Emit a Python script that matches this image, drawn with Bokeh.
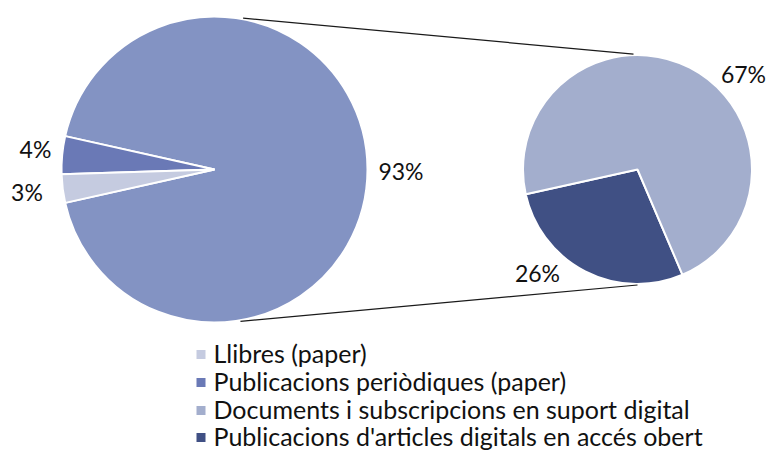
import math
from bokeh.plotting import figure
from bokeh.models import Range1d
from bokeh.core.properties import value
from bokeh.embed import file_html
from bokeh.resources import INLINE

# ---- data ----
categories = [
    "Llibres (paper)",
    "Publicacions periòdiques (paper)",
    "Documents i subscripcions en suport digital",
    "Publicacions d'articles digitals en accés obert",
]
values = [3, 4, 67, 26]          # percentages of total
main_idx = [0, 1]                # shown in the main pie
sec_idx = [2, 3]                 # grouped into the secondary pie

# ---- styles ----
colors = ["#C5CBE0", "#6A79B6", "#A3AECD", "#405084"]
other_color = "#8393C3"
FONT = value("Lato")

W, H = 769, 452
p = figure(width=W, height=H, x_range=Range1d(0, W), y_range=Range1d(0, H),
           output_backend="svg", toolbar_location=None, min_border=0)
p.axis.visible = False
p.grid.visible = False
p.outline_line_color = None
p.background_fill_color = "white"

def sy(y):  # picture y (from top) -> data y
    return H - y

# main pie
cx1, cy1, r1 = 214, sy(169), 153
other = sum(values[i] for i in sec_idx)
half = other * 3.6 / 2
starts, ends, cols = [-half], [half], [other_color]
a = half
for i in [1, 0]:
    starts.append(a)
    a += values[i] * 3.6
    ends.append(a)
    cols.append(colors[i])
p.wedge(x=cx1, y=cy1, radius=r1, start_angle=starts, end_angle=ends,
        start_angle_units="deg", end_angle_units="deg",
        fill_color=cols, line_color="white", line_width=2)

# secondary pie
cx2, cy2, r2 = 637, sy(169), 114.5
b0 = 192.5
s2, e2, c2 = [], [], []
b = b0
for i in [3, 2]:
    s2.append(b)
    b += values[i] / other * 360
    e2.append(b)
    c2.append(colors[i])
p.wedge(x=cx2, y=cy2, radius=r2, start_angle=s2, end_angle=e2,
        start_angle_units="deg", end_angle_units="deg",
        fill_color=c2, line_color="white", line_width=2)

# connector lines
def pt(cx, cy, r, ang):
    return cx + r * math.cos(math.radians(ang)), cy + r * math.sin(math.radians(ang))
for a1, a2 in [(79.3, 92.0), (-80.3, 270.0)]:
    x1, y1 = pt(cx1, cy1, r1 + 1, a1)
    x2, y2 = pt(cx2, cy2, r2 + 1, a2)
    p.line([x1, x2], [y1, y2], line_color="#1a1a1a", line_width=1.2)

# data labels
lab_x = [26.5, 35, 743, 537]
lab_y = [sy(191.5), sy(148.5), sy(73), sy(272.5)]
lab_t = [f"{v}%" for v in values]
lab_x.append(400.5); lab_y.append(sy(170)); lab_t.append(f"{other}%")
p.text(x=lab_x, y=lab_y, text=lab_t, text_font=FONT, text_font_size="23px",
       text_align="center", text_baseline="middle", text_color="#111111")

# legend
ly = [sy(v) for v in [354, 382, 410, 437]]
p.rect(x=[200.5] * 4, y=ly, width=9, height=9, fill_color=colors, line_color=None)
p.text(x=[213] * 4, y=[v + 1.5 for v in ly], text=categories, text_font=FONT,
       text_font_size="25px", text_align="left", text_baseline="middle",
       text_color="#111111")

open("out.html", "w").write(file_html(p, INLINE))
